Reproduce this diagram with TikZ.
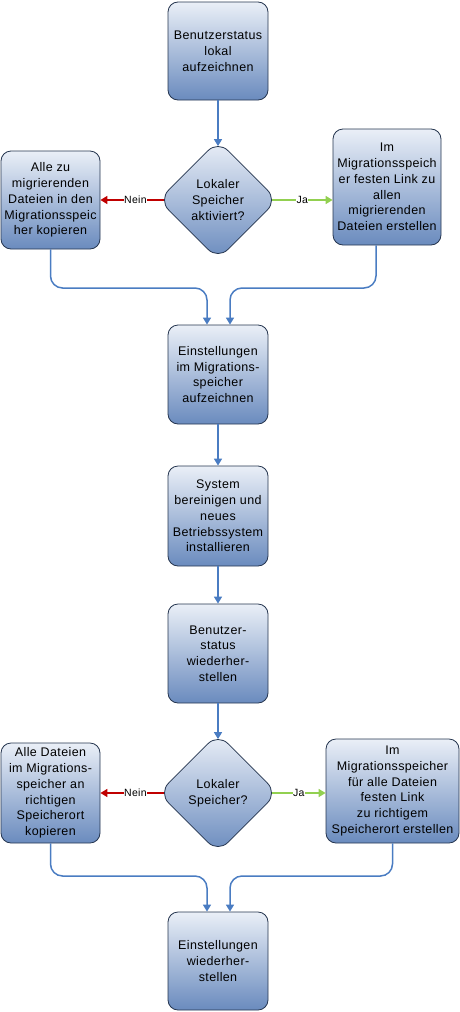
\documentclass[tikz,border=0pt]{standalone}
\usepackage{fontspec}
\setmainfont{Liberation Sans}[LetterSpace=3]
\usetikzlibrary{shapes.geometric,arrows.meta}
\definecolor{topc}{HTML}{EAEFF7}
\definecolor{botc}{HTML}{6A8BBE}
\definecolor{bordc}{HTML}{25354F}
\definecolor{flowc}{HTML}{4A7CC2}
\definecolor{neinc}{HTML}{C00000}
\definecolor{jac}{HTML}{92D050}
\tikzset{
  procbox/.style={rectangle, rounded corners=10pt, draw=bordc, line width=0.8pt,
    top color=topc, bottom color=botc, align=center, inner sep=0pt,
    font=\fontsize{12.5}{15.8}\selectfont},
  decbox/.style={diamond, rounded corners=14pt, draw=bordc, line width=0.8pt,
    top color=topc, bottom color=botc, align=center, inner sep=0pt,
    minimum width=119pt, minimum height=119pt,
    font=\fontsize{12.5}{15.8}\selectfont},
  flow/.style={draw=flowc, line width=1.5pt, rounded corners=12pt,
    -{Triangle[length=7pt,width=8pt]}},
  nein/.style={draw=neinc, line width=1.5pt, -{Triangle[length=7pt,width=8pt]}},
  ja/.style={draw=jac, line width=1.5pt, -{Triangle[length=7pt,width=8pt]}},
  lbl/.style={fill=white, inner sep=0.5pt, font=\fontsize{10.5}{12}\selectfont, text=black}
}
\begin{document}
\begin{tikzpicture}[x=1pt,y=1pt]
\useasboundingbox (0,0) rectangle (460,-1012);
\node[procbox, minimum width=100pt, minimum height=98pt] (b1) at (218,-51) {Benutzerstatus\\lokal\\aufzeichnen};
\node[decbox] (d1) at (218,-200) {Lokaler\\Speicher\\aktiviert?};
\node[procbox, minimum width=99pt, minimum height=98pt] (l1) at (50.5,-200) {Alle zu\\migrierenden\\Dateien in den\\Migrationsspeic\\her kopieren};
\node[procbox, minimum width=108pt, minimum height=116pt] (r1) at (387,-187) {Im\\Migrationsspeich\\er festen Link zu\\allen\\migrierenden\\Dateien erstellen};
\node[procbox, minimum width=100pt, minimum height=99pt] (b3) at (218,-374.5) {Einstellungen\\im Migrations-\\speicher\\aufzeichnen};
\node[procbox, minimum width=100pt, minimum height=100pt] (b4) at (218,-516) {System\\bereinigen und\\neues\\Betriebssystem\\installieren};
\node[procbox, minimum width=100pt, minimum height=99pt] (b5) at (218,-653.5) {Benutzer-\\status\\wiederher-\\stellen};
\node[decbox] (d2) at (218,-793) {Lokaler\\Speicher?};
\node[procbox, minimum width=99pt, minimum height=100pt] (l2) at (50.5,-793) {Alle Dateien\\im Migrations-\\speicher an\\richtigen\\Speicherort\\kopieren};
\node[procbox, minimum width=133pt, minimum height=104pt] (r2) at (392.5,-791) {Im\\Migrationsspeicher\\für alle Dateien\\festen Link\\zu richtigem\\Speicherort erstellen};
\node[procbox, minimum width=100pt, minimum height=98pt] (b6) at (218,-961) {Einstellungen\\wiederher-\\stellen};

\coordinate (d1w) at ([xshift=6pt]d1.west);
\coordinate (d1e) at ([xshift=-6pt]d1.east);
\coordinate (d1n) at ([yshift=-6pt]d1.north);
\coordinate (d2w) at ([xshift=6pt]d2.west);
\coordinate (d2e) at ([xshift=-6pt]d2.east);
\coordinate (d2n) at ([yshift=-6pt]d2.north);
\coordinate (r1s) at ([xshift=-11pt]r1.south);
\coordinate (b3l) at ([xshift=-11pt]b3.north);
\coordinate (b3r) at ([xshift=12pt]b3.north);
\coordinate (b6l) at ([xshift=-11pt]b6.north);
\coordinate (b6r) at ([xshift=12pt]b6.north);

\draw[flow] (b1) -- (d1n);
\draw[nein] (d1w) -- node[lbl, pos=0.45]{Nein} (l1.east);
\draw[ja] (d1e) -- node[lbl, pos=0.5]{Ja} (d1e -| r1.west);
\draw[flow] (l1.south) -- (l1.south |- 0,-288) -| (b3l);
\draw[flow] (r1s) -- (r1s |- 0,-288) -| (b3r);
\draw[flow] (b3) -- (b4);
\draw[flow] (b4) -- (b5);
\draw[flow] (b5) -- (d2n);
\draw[nein] (d2w) -- node[lbl, pos=0.45]{Nein} (l2.east);
\draw[ja] (d2e) -- node[lbl, pos=0.5]{Ja} (d2e -| r2.west);
\draw[flow] (l2.south) -- (l2.south |- 0,-876) -| (b6l);
\draw[flow] (r2.south) -- (r2.south |- 0,-876) -| (b6r);
\end{tikzpicture}
\end{document}
